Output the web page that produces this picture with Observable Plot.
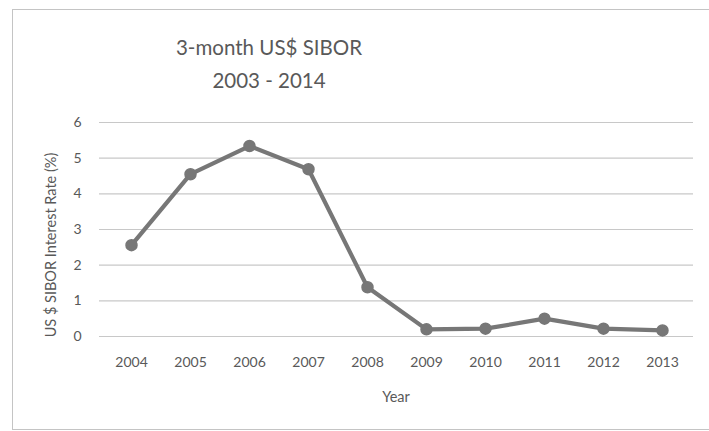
<!DOCTYPE html>
<html>
<head>
<meta charset="utf-8">
<script src="https://cdn.jsdelivr.net/npm/d3@7"></script>
<script src="https://cdn.jsdelivr.net/npm/@observablehq/plot@0.6"></script>
<style>
  html, body { margin: 0; padding: 0; background: #ffffff; }
  #wrap { position: relative; width: 709px; height: 431px; overflow: hidden; font-family: Lato, "Open Sans", sans-serif; color: #595959; }
  #frame { position: absolute; left: 12px; top: 9px; width: 720px; height: 421px; border: 1.5px solid #c4c4c4; box-sizing: border-box; }
  .title { position: absolute; left: 169px; width: 200px; text-align: center; font-size: 20.5px; color: #595959; line-height: 1; }
  #ytitle { position: absolute; left: 51px; top: 245px; width: 300px; margin-left: -150px; margin-top: -8px; text-align: center; font-size: 14.5px; line-height: 16px; transform: rotate(-90deg); white-space: nowrap; }
  #xtitle { position: absolute; left: 296px; top: 389px; width: 200px; text-align: center; font-size: 14.5px; line-height: 16px; }
  #chart { position: absolute; left: 0; top: 0; }
</style>
</head>
<body>
<div id="wrap">
  <div id="frame"></div>
  <div id="chart"></div>
  <div class="title" style="top:37px">3-month US$ SIBOR</div>
  <div class="title" style="top:70px">2003 - 2014</div>
  <div id="ytitle">US $ SIBOR Interest Rate (%)</div>
  <div id="xtitle">Year</div>
</div>
<script>
const years = ["2004","2005","2006","2007","2008","2009","2010","2011","2012","2013"];
const rates = [2.56, 4.55, 5.34, 4.69, 1.38, 0.20, 0.22, 0.50, 0.22, 0.17];
const yTicks = [0, 1, 2, 3, 4, 5, 6];

const data = years.map((y, i) => ({year: y, rate: rates[i]}));

const chart = Plot.plot({
  width: 709,
  height: 431,
  marginTop: 122,
  marginBottom: 95,
  marginLeft: 99,
  marginRight: 16,
  style: {background: "transparent", fontFamily: "Lato, 'Open Sans', sans-serif", fontSize: "14px", color: "#595959"},
  x: {type: "point", domain: years, padding: 0.5},
  y: {domain: [0, 6]},
  marks: [
    Plot.gridY(yTicks, {stroke: "#c8c8c8", strokeOpacity: 1, strokeWidth: 1.2}),
    Plot.axisY(yTicks, {tickSize: 0, tickPadding: 18, fontSize: 14, fill: "#595959", label: null}),
    Plot.axisX({tickSize: 0, tickPadding: 21, fontSize: 14, fill: "#595959", label: null}),
    Plot.line(data, {x: "year", y: "rate", stroke: "#777777", strokeWidth: 4.2, strokeLinejoin: "round"}),
    Plot.dot(data, {x: "year", y: "rate", r: 5.5, fill: "#777777", stroke: "#777777"})
  ]
});
document.getElementById("chart").appendChild(chart);
</script>
</body>
</html>
